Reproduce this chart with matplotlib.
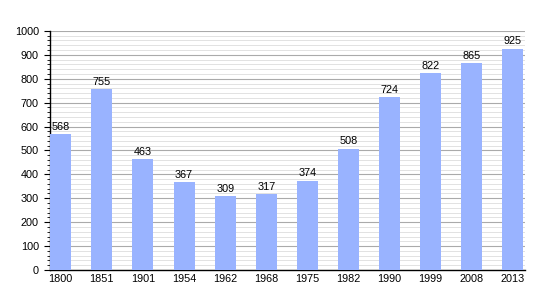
import matplotlib.pyplot as plt
import numpy as np
from matplotlib.ticker import MultipleLocator

years = ["1800", "1851", "1901", "1954", "1962", "1968", "1975", "1982", "1990", "1999", "2008", "2013"]
population = [568, 755, 463, 367, 309, 317, 374, 508, 724, 822, 865, 925]

plt.rcParams['font.family'] = ['Liberation Sans', 'DejaVu Sans']

fig = plt.figure(figsize=(5.5, 3), dpi=100)
ax = fig.add_axes([0.091, 0.1, 0.864, 0.797])

x = np.arange(len(years))
ax.bar(x, population, width=0.51, color='#99b3ff', zorder=3)
for xi, v in zip(x, population):
    ax.text(xi, v + 10, str(v), ha='center', va='bottom', fontsize=7.8, zorder=4)

ax.set_xlim(-0.26, 11.3)
ax.set_ylim(0, 1000)
ax.set_xticks(x)
ax.set_xticklabels(years)
ax.yaxis.set_major_locator(MultipleLocator(100))
ax.yaxis.set_minor_locator(MultipleLocator(20))
ax.grid(which='major', axis='y', color='#aaaaaa', linewidth=0.8, zorder=0)
ax.grid(which='minor', axis='y', color='#dddddd', linewidth=0.6, zorder=0)
ax.tick_params(axis='y', which='major', length=4, width=0.8, labelsize=7.8, pad=4)
ax.tick_params(axis='y', which='minor', length=2, width=0.6)
ax.tick_params(axis='x', length=0, labelsize=7.8, pad=3)
for s in ['top', 'right']:
    ax.spines[s].set_visible(False)
ax.spines['left'].set_linewidth(1)
ax.spines['bottom'].set_linewidth(1)

fig.savefig('out.png', dpi=100)
